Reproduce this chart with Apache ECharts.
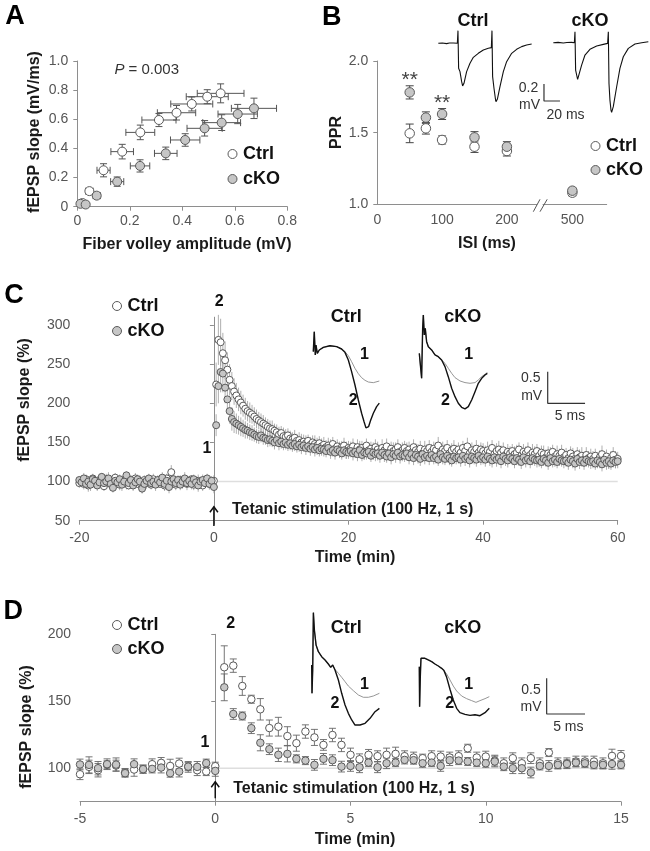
<!DOCTYPE html>
<html><head><meta charset="utf-8">
<script src="https://cdn.jsdelivr.net/npm/echarts@6/dist/echarts.min.js"></script>
<style>html,body{margin:0;padding:0;background:#fff}#c{width:650px;height:851px}</style>
</head><body><div id="c"></div>
<script>
// ---------------- Panel A: fEPSP slope vs fiber volley ----------------
const aCtrlX    = [0.020, 0.046, 0.100, 0.171, 0.240, 0.311, 0.378, 0.436, 0.495, 0.546];
const aCtrlY    = [0.025, 0.107, 0.250, 0.378, 0.510, 0.595, 0.645, 0.705, 0.755, 0.778];
const aCtrlXErr = [0.005, 0.014, 0.025, 0.043, 0.055, 0.065, 0.073, 0.080, 0.080, 0.089];
const aCtrlYErr = [0.006, 0.018, 0.045, 0.050, 0.050, 0.045, 0.050, 0.048, 0.048, 0.065];
const aCkoX     = [0.012, 0.032, 0.074, 0.152, 0.239, 0.337, 0.411, 0.485, 0.550, 0.611, 0.673];
const aCkoY     = [0.020, 0.015, 0.076, 0.172, 0.280, 0.366, 0.458, 0.538, 0.577, 0.636, 0.675];
const aCkoXErr  = [0.004, 0.006, 0.014, 0.025, 0.037, 0.043, 0.056, 0.067, 0.072, 0.075, 0.086];
const aCkoYErr  = [0.004, 0.005, 0.018, 0.032, 0.042, 0.043, 0.043, 0.053, 0.054, 0.066, 0.070];
const aPText = '0.003';

// ---------------- Panel B: paired-pulse ratio ----------------
const bIsi     = [50, 75, 100, 150, 200, 500];
const bCtrl    = [1.495, 1.530, 1.449, 1.402, 1.372, 1.081];
const bCtrlErr = [0.065, 0.040, 0.028, 0.040, 0.035, 0.022];
const bCko     = [1.781, 1.605, 1.630, 1.467, 1.402, 1.095];
const bCkoErr  = [0.046, 0.040, 0.038, 0.040, 0.035, 0.018];
const bXTicksLeft = [0, 100, 200];
const bXTicksRight = [500];
const bSig = [[50, 1.90], [100, 1.74]];   // "**" marks (ISI, PPR level)
// example traces (ms, mV)
const trBCtrl = [[0,0],[5,0.004],[10.4,-0.004],[14,0.003],[18.8,0.004],[23.8,0],[24.6,0.149],[25.4,-0.294],[27.1,-0.333],[29.2,-0.451],[30.4,-0.502],[32.1,-0.471],[35.4,-0.333],[39.6,-0.235],[43.8,-0.165],[50,-0.118],[56.3,-0.078],[62.5,-0.059],[66.3,-0.051],[67.1,0.149],[67.9,-0.392],[69.6,-0.529],[71.3,-0.647],[72.1,-0.686],[73.8,-0.659],[77.1,-0.51],[81.3,-0.333],[85.4,-0.216],[91.7,-0.118],[97.9,-0.071],[104.2,-0.039],[110.4,-0.02],[116.7,-0.008]];
const trBCko = [[0,0],[6,0.004],[12.5,-0.004],[17,0.003],[22.9,0.004],[26.3,0],[27.1,0.129],[27.9,-0.322],[29.2,-0.38],[30.4,-0.431],[32.1,-0.408],[35.4,-0.263],[39.6,-0.145],[45.8,-0.078],[54.2,-0.039],[62.5,-0.02],[67.9,-0.008],[68.8,0.129],[69.6,-0.478],[70.8,-0.675],[72.1,-0.792],[72.9,-0.82],[75,-0.753],[79.2,-0.518],[83.3,-0.302],[87.5,-0.165],[93.8,-0.067],[102.1,-0.016],[110.4,0],[118.8,0.012]];
const scaleB = {at: [132.1, -0.479], ms: 20, mV: 0.2};

// ---------------- Panel C: LTP, 20-s samples from -20 to 60 min ----------------
const cStart = -20, cStepMin = 1 / 3;
const cCtrlBase = [98,101,97,103,95,100,104,99,96,102,100,94,
  103,98,101,97,105,99,96,100,102,98,95,101,
  99,104,97,100,93,102,98,101,96,103,99,100,
  97,101,95,104,98,112,100,96,99,102,98,101,
  97,100,103,96,99,101,98,95,102,100,97,99,
  101];
const cCtrlPost = [224,281,278,264,255,243,230,222,215,210,205,201,
  197,193,190,188,186,183,180,178,176,174,172,170,
  168,167,165,163,160,162,158,157,159,155,154,156,
  152,153,150,151,149,152,147,150,148,146,149,145,
  147,144,146,143,148,142,145,141,144,146,140,143,
  142,145,139,144,141,143,138,146,140,142,139,144,
  141,138,143,140,145,137,142,139,141,144,138,140,
  143,139,141,137,144,140,138,142,136,141,139,143,
  138,142,140,146,137,141,139,143,136,140,142,138,
  141,137,143,139,145,136,140,138,142,137,141,139,
  136,140,138,143,135,139,141,137,140,134,138,136,
  139,135,137,141,133,138,136,140,134,137,135,139,
  133,137,135,131,136,134,138,132,135,133,137,131,
  134,130,136,132,129,135,131,133,128,134,130,132,
  129,133,127,131,135,128,132,126,130,134,128,129];
const cCkoBase = [102,99,104,97,100,96,103,101,95,99,106,98,
  100,104,97,92,101,99,103,96,100,108,98,102,
  95,99,103,100,91,97,101,104,98,100,96,102,
  99,105,97,101,93,100,103,98,102,96,100,104,
  98,101,97,103,99,95,100,102,98,104,97,101,
  93];
const cCkoPost = [172,222,240,238,220,205,190,180,176,174,172,170,
  168,166,165,163,162,160,158,157,159,156,155,153,
  154,152,150,153,149,151,148,150,147,149,146,148,
  145,147,144,146,143,145,142,144,141,143,140,142,
  141,139,143,138,140,137,141,139,136,140,138,137,
  139,136,138,135,140,134,137,136,138,133,137,135,
  136,133,137,134,132,136,131,135,133,137,132,134,
  133,136,131,135,130,134,132,129,135,131,133,130,
  134,130,132,128,135,131,129,133,130,127,132,130,
  131,128,133,129,131,127,132,130,128,133,129,131,
  128,132,129,127,131,128,130,126,132,129,127,131,
  129,126,130,128,125,131,127,129,126,130,128,127,
  128,125,129,127,124,130,126,128,125,129,127,126,
  127,124,128,126,123,129,125,127,124,128,126,125,
  126,123,127,125,122,128,124,126,123,127,125,126];
const cCtrlErr = [6,5,7,6,8,5,6,7,5,6,8,6, 7,5,6,8,6,5,7,6,6,8,5,7, 6,7,5,6,8,6,7,5,6,7,6,8,
  5,6,7,6,8,9,6,7,5,6,7,6, 8,6,5,7,6,8,6,7,5,6,7,6, 7,
  28,32,30,26,24,22,20,18,17,16,15,15, 14,14,13,13,12,12,12,11,11,11,10,10,
  10,11,9,10,10,9,11,10,9,10,9,10, 9,10,11,9,10,8,10,9,11,10,9,10,
  10,9,10,11,9,10,9,10,8,10,11,9, 9,10,9,10,11,9,10,9,10,9,11,10,
  10,9,11,9,10,10,9,11,9,10,9,10, 9,11,10,9,10,9,10,10,9,11,9,10,
  10,9,10,11,9,10,9,10,10,9,11,9, 9,10,9,10,11,9,10,9,11,10,9,10,
  10,11,9,10,9,10,11,9,10,9,10,9, 9,10,10,9,11,10,9,10,9,11,10,9,
  10,9,11,10,9,10,9,10,11,9,10,10, 9,10,9,11,10,9,10,11,9,10,9,10,
  10,9,10,9,11,10,9,10,9,10,11,9];
const cCkoErr = [5,6,7,5,6,8,5,6,7,6,5,7, 6,8,5,6,7,5,6,8,6,5,7,6, 7,5,6,8,6,7,5,6,7,6,8,5,
  6,7,5,6,8,6,7,5,6,7,6,8, 5,6,7,6,5,8,6,7,5,6,7,6, 8,
  14,22,26,24,20,18,16,15,14,13,12,12, 11,11,10,10,10,9,9,9,9,9,8,9,
  9,8,9,8,9,9,8,9,8,9,8,9, 8,9,9,8,9,8,9,8,9,9,8,9,
  9,8,9,9,8,9,8,9,8,9,9,8, 8,9,8,9,9,8,9,8,9,8,9,9,
  9,9,8,9,8,9,9,8,9,8,9,8, 8,9,9,8,9,8,9,9,8,9,8,9,
  9,8,9,8,9,9,8,9,9,8,9,8, 8,9,8,9,8,9,9,8,9,9,8,9,
  9,8,9,9,8,9,8,9,8,9,9,8, 8,9,9,8,9,8,9,8,9,9,8,9,
  9,8,9,8,9,9,8,9,8,9,8,9, 8,9,8,9,9,8,9,8,9,9,8,9,
  9,8,9,8,9,8,9,9,8,9,8,9];
const cBaseline = [[0, 100], [60, 100]];
const trCCtrlHead = [[0,-0.026],[0.13,0.29],[0.27,-0.079],[0.36,0.079],[0.54,-0.053],[0.8,0],[1.34,0.042],[2.23,0.068],[3.13,0.053],[3.79,0.016]];
const trCCtrl2 = [[4.24,-0.037],[4.69,-0.158],[5.13,-0.342],[5.58,-0.553],[6.03,-0.79],[6.47,-1.0],[6.79,-1.13],[7.05,-1.23],[7.23,-1.26],[7.41,-1.21],[7.68,-1.11],[8.04,-1.0],[8.48,-0.895],[8.84,-0.84]];
const trCCtrl1 = [[4.24,-0.026],[4.69,-0.09],[5.13,-0.184],[5.58,-0.29],[6.03,-0.374],[6.47,-0.437],[6.92,-0.479],[7.37,-0.506],[8.04,-0.516],[8.84,-0.49]];
const trCCkoHead = [[0,0],[0.18,-0.026],[0.31,-0.395],[0.45,0.395],[0.54,0.606],[0.67,0.29],[0.8,0.395],[0.98,0.184],[1.21,0.105],[1.65,0.053],[2.1,-0.026],[2.54,-0.053],[2.99,-0.105]];
const trCCko2 = [[3.44,-0.21],[3.88,-0.369],[4.33,-0.553],[4.78,-0.685],[5.22,-0.79],[5.67,-0.853],[6.12,-0.879],[6.56,-0.843],[7.01,-0.737],[7.46,-0.606],[7.9,-0.474],[8.35,-0.395],[8.79,-0.342],[9.11,-0.316]];
const trCCko1 = [[3.44,-0.158],[3.88,-0.237],[4.33,-0.316],[4.78,-0.384],[5.45,-0.437],[6.12,-0.463],[6.79,-0.474],[7.46,-0.463],[7.9,-0.421],[8.35,-0.369],[8.79,-0.332],[9.11,-0.305]];
const scaleC = {at: [17.19, -0.29], ms: 5, mV: 0.5};

// ---------------- Panel D: 20-s samples from -5 to 15 min ----------------
const dStart = -5, dStepMin = 1 / 3;
const dCtrl = [95.5,101,98.5,102.5,102,96.8,99,99.3,103,104,101.7,103.5,101,98.5,97.5,101.5,
  175.4,176.6,161.4,151.5,144,130,131,124,118.7,127.4,123,117.4,124.8,117.4,110,106.7,110,109,110,110.7,109,108,107.5,109,
  108.7,108,109,114.9,108,108.7,105.7,103.7,107.5,103.7,107.5,103.7,111.7,103.7,103.7,105,105,105,103.7,109.2,109.2];
const dCtrlErr = [4,5,5,3,4,3,5,3,4,4,5,4,4,4,3,3,
  16,5,7,3,8,6,7,7,6,5,6,4,5,5,5,4,4,4,5,5,4,4,3,4,4,4,4,3,4,4,4,4,4,4,4,4,3,4,4,4,4,4,4,5,4];
const dCko = [102.8,102.5,100,103,102.7,96.3,103,99.3,99.5,100.5,96.3,97.5,101.2,101,103.8,98,
  160.4,140.5,139,129.9,119,114.2,110,110.7,107,105.7,102.5,107,106,101.2,101.7,100.7,104.2,100.7,103.7,104.2,106.2,106,103.7,104.2,
  101.7,106,105.7,105,104.2,103.7,105,101.2,100,100,96.8,101.7,101.7,102.5,103.2,104.2,103.7,102.5,102.5,103.2,102.5];
const dCkoErr = [4,6,5,4,5,3,4,3,3,4,3,4,3,4,3,4,
  10,4,3,4,6,4,5,6,3,3,4,4,4,4,4,4,3,4,4,3,3,3,3,3,4,4,3,3,3,3,4,3,4,4,4,3,4,3,3,3,3,3,3,4,3];
const dBaseline = [[0, 100], [15, 100]];
const trDCtrlHead = [[0,0],[0.04,-0.397],[0.13,-0.07],[0.22,0.734],[0.35,0.491],[0.57,0.28],[0.87,0.187],[1.3,0.117],[1.74,0.07],[2.17,0.014],[2.48,-0.033],[2.74,0]];
const trDCtrl2 = [[3.04,-0.07],[3.48,-0.21],[3.91,-0.397],[4.35,-0.561],[4.78,-0.678],[5.22,-0.771],[5.65,-0.842],[6.3,-0.842],[6.96,-0.818],[7.61,-0.748],[8.26,-0.655],[8.83,-0.608]];
const trDCtrl1 = [[3.04,-0.061],[3.48,-0.117],[3.91,-0.173],[4.35,-0.234],[4.78,-0.295],[5.43,-0.36],[6.09,-0.421],[6.74,-0.453],[7.39,-0.453],[8.04,-0.435],[8.83,-0.397]];
const trDCkoHead = [[0,-0.023],[0.04,-0.584],[0.13,-0.164],[0.22,0.094],[0.43,0.117],[0.74,0.094],[1.17,0.07],[1.61,0.047],[2.04,0.014],[2.48,-0.014],[2.91,-0.047],[3.22,-0.079]];
const trDCko2 = [[3.57,-0.173],[4.0,-0.341],[4.43,-0.491],[4.87,-0.608],[5.3,-0.669],[5.96,-0.692],[6.61,-0.706],[7.26,-0.697],[7.91,-0.711],[8.57,-0.669],[9.13,-0.608]];
const trDCko1 = [[3.57,-0.126],[4.0,-0.21],[4.43,-0.295],[4.87,-0.365],[5.52,-0.435],[6.17,-0.472],[6.83,-0.5],[7.39,-0.524],[7.91,-0.5],[8.57,-0.472],[9.13,-0.444]];
const scaleD = {at: [16.61, -0.187], ms: 5, mV: 0.5};

// ---------------- build ----------------
const cCtrl = cCtrlBase.concat(cCtrlPost), cCko = cCkoBase.concat(cCkoPost);
[cCtrl, cCko, cCtrlErr, cCkoErr].forEach(a => { if (a.length !== 241) throw new Error('C length ' + a.length); });
[dCtrl, dCko, dCtrlErr, dCkoErr].forEach(a => { if (a.length !== 61) throw new Error('D length ' + a.length); });
const cTime = cCtrl.map((_, i) => cStart + i * cStepMin);
const dTime = dCtrl.map((_, i) => dStart + i * dStepMin);

const FONT = '"Liberation Sans", Arial, Helvetica, sans-serif';
const AXC = '#8e8e8e', LBL = '#555', EDGE = '#5a5a5a', GRAYFILL = '#c6c6c6';

const grids = [
  {left: 77.3, top: 61, width: 210, height: 145.7},      // 0 A
  {left: 377.3, top: 61, width: 159.4, height: 143.3},   // 1 B left
  {left: 543, top: 61, width: 63.7, height: 143.3},      // 2 B right
  {left: 79.3, top: 317.2, width: 538.4, height: 203.5}, // 3 C
  {left: 80, top: 634.3, width: 541, height: 167.4},     // 4 D
  {left: 438.3, top: 26.3, width: 124, height: 85},      // 5 B Ctrl trace (0.8 px/ms, 85 px/mV)
  {left: 553.3, top: 25.7, width: 96, height: 93.5},     // 6 B cKO trace
  {left: 313.3, top: 324.7, width: 67.2, height: 113.9}, // 7 C Ctrl trace
  {left: 419.3, top: 328, width: 171.8, height: 113.9},  // 8 C cKO trace (+ scale bar)
  {left: 311.7, top: 600.8, width: 69, height: 135.5},   // 9 D Ctrl trace
  {left: 419.3, top: 600.8, width: 168.7, height: 135.5} // 10 D cKO trace (+ scale bar)
].map(g => Object.assign({containLabel: false, outerBoundsMode: 'none'}, g));

function vAxis(gi, min, max, o) {
  o = o || {};
  return {
    gridIndex: gi, type: 'value', min, max, interval: o.interval,
    axisLine: {show: o.line !== false, lineStyle: {color: AXC, width: 1}},
    axisTick: Object.assign({show: o.tick !== false, length: 4, inside: false, lineStyle: {color: AXC}}, o.ticks ? {customValues: o.ticks} : {}),
    axisLabel: Object.assign({show: true, color: LBL, fontSize: 14, fontFamily: FONT, margin: o.margin || 8, formatter: o.fmt}, o.ticks ? {customValues: o.ticks} : {}),
    splitLine: {show: false}
  };
}
function hidden(gi, min, max) { return {gridIndex: gi, type: 'value', min, max, show: false}; }
const fmt1 = v => (v === 0 ? '0' : v.toFixed(1));

const xAxis = [
  vAxis(0, 0, 0.8, {interval: 0.2, fmt: fmt1, margin: 7}),
  vAxis(1, 0, 246, {ticks: bXTicksLeft, tick: false, margin: 9}),
  vAxis(2, 454.7, 553, {ticks: bXTicksRight, tick: false, margin: 9}),
  vAxis(3, -20, 60, {interval: 20, margin: 10}),
  vAxis(4, -5, 15, {interval: 5, margin: 10}),
  hidden(5, 0, 155), hidden(6, 0, 120), hidden(7, 0, 9), hidden(8, 0, 23), hidden(9, 0, 9), hidden(10, 0, 22)
];
const yAxis = [
  vAxis(0, 0, 1.0, {interval: 0.2, fmt: fmt1, margin: 9}),
  vAxis(1, 1.0, 2.0, {interval: 0.5, fmt: v => v.toFixed(1), margin: 9}),
  hidden(2, 1.0, 2.0),
  vAxis(3, 50, 310, {ticks: [50, 100, 150, 200, 250, 300], margin: 9}),
  vAxis(4, 75, 200, {ticks: [100, 150, 200], margin: 9}),
  hidden(5, -0.8, 0.2), hidden(6, -0.9, 0.2), hidden(7, -1.4, 0.4), hidden(8, -1.4, 0.4), hidden(9, -1.0, 0.9), hidden(10, -1.0, 0.9)
];

function errSeries(name, gi, data, cap, color, lw, hasX) {
  return {
    type: 'custom', name, xAxisIndex: gi, yAxisIndex: gi, coordinateSystem: 'cartesian2d',
    data, encode: {x: 0, y: 1}, silent: true, z: 2, animation: false,
    renderItem: (params, api) => {
      const x = api.value(0), y = api.value(1);
      const ey = hasX ? api.value(3) : api.value(2);
      const st = {stroke: color, lineWidth: lw, fill: null};
      const ch = [];
      const t = api.coord([x, y + ey]), b = api.coord([x, y - ey]);
      ch.push({type: 'line', shape: {x1: t[0], y1: t[1], x2: b[0], y2: b[1]}, style: st});
      if (cap) {
        ch.push({type: 'line', shape: {x1: t[0] - cap, y1: t[1], x2: t[0] + cap, y2: t[1]}, style: st});
        ch.push({type: 'line', shape: {x1: b[0] - cap, y1: b[1], x2: b[0] + cap, y2: b[1]}, style: st});
      }
      if (hasX) {
        const ex = api.value(2);
        const l = api.coord([x - ex, y]), r = api.coord([x + ex, y]);
        ch.push({type: 'line', shape: {x1: l[0], y1: l[1], x2: r[0], y2: r[1]}, style: st});
        ch.push({type: 'line', shape: {x1: l[0], y1: l[1] - cap, x2: l[0], y2: l[1] + cap}, style: st});
        ch.push({type: 'line', shape: {x1: r[0], y1: r[1] - cap, x2: r[0], y2: r[1] + cap}, style: st});
      }
      return {type: 'group', children: ch};
    }
  };
}
function pts(name, gi, data, fill, size, z) {
  return {type: 'scatter', name, xAxisIndex: gi, yAxisIndex: gi, data, symbol: 'circle', symbolSize: size,
    itemStyle: {color: fill, borderColor: EDGE, borderWidth: 1, opacity: 1}, z: z || 3, silent: true,
    emphasis: {disabled: true}, animation: false};
}
function trace(name, gi, data, color, width, z) {
  return {type: 'line', name, xAxisIndex: gi, yAxisIndex: gi, data, showSymbol: false, symbol: 'none',
    lineStyle: {color, width}, z: z || 4, silent: true, animation: false, clip: false, emphasis: {disabled: true}};
}
function scaleBar(name, gi, s) {
  const [x, y] = s.at;
  return trace(name, gi, [[x, y], [x, y - s.mV], [x + s.ms, y - s.mV]], '#333', 1.2, 4);
}

const series = [];
// A
series.push(errSeries('A Ctrl err', 0, aCtrlX.map((x, i) => [x, aCtrlY[i], aCtrlXErr[i], aCtrlYErr[i]]), 3.5, '#555', 1, true));
series.push(errSeries('A cKO err', 0, aCkoX.map((x, i) => [x, aCkoY[i], aCkoXErr[i], aCkoYErr[i]]), 3.5, '#555', 1, true));
series.push(pts('Ctrl', 0, aCtrlX.map((x, i) => [x, aCtrlY[i]]), '#fff', 9));
series.push(pts('cKO', 0, aCkoX.map((x, i) => [x, aCkoY[i]]), GRAYFILL, 9));
// B (split axis: short ISIs left, 500 ms right)
const bLeftIdx = bIsi.map((v, i) => i).filter(i => bIsi[i] <= 246);
const bRightIdx = bIsi.map((v, i) => i).filter(i => bIsi[i] > 246);
[[1, bLeftIdx], [2, bRightIdx]].forEach(([gi, idx]) => {
  series.push(errSeries('B Ctrl err ' + gi, gi, idx.map(i => [bIsi[i], bCtrl[i], bCtrlErr[i]]), 4, '#444', 1, false));
  series.push(errSeries('B cKO err ' + gi, gi, idx.map(i => [bIsi[i], bCko[i], bCkoErr[i]]), 4, '#444', 1, false));
  series.push(pts('Ctrl', gi, idx.map(i => [bIsi[i], bCtrl[i]]), '#fff', 9.5));
  series.push(pts('cKO', gi, idx.map(i => [bIsi[i], bCko[i]]), GRAYFILL, 9.5));
});
series.push(trace('B trace Ctrl', 5, trBCtrl, '#111', 1.1));
series.push(trace('B trace cKO', 6, trBCko, '#111', 1.1));
series.push(scaleBar('B scale', 5, scaleB));
// C
series.push(trace('C baseline', 3, cBaseline, '#dedede', 1.5, 1));
series.push(errSeries('C Ctrl err', 3, cTime.map((t, i) => [t, cCtrl[i], cCtrlErr[i]]), 0, '#9a9a9a', 0.8, false));
series.push(pts('Ctrl', 3, cTime.map((t, i) => [t, cCtrl[i]]), '#fff', 7));
series.push(errSeries('C cKO err', 3, cTime.map((t, i) => [t, cCko[i], cCkoErr[i]]), 0, '#9a9a9a', 0.8, false));
series.push(pts('cKO', 3, cTime.map((t, i) => [t, cCko[i]]), GRAYFILL, 7, 3));
series.push(trace('C trace Ctrl 1', 7, trCCtrlHead.concat(trCCtrl1), '#8a8a8a', 0.9));
series.push(trace('C trace Ctrl 2', 7, trCCtrlHead.concat(trCCtrl2), '#111', 1.4, 5));
series.push(trace('C trace cKO 1', 8, trCCkoHead.concat(trCCko1), '#8a8a8a', 0.9));
series.push(trace('C trace cKO 2', 8, trCCkoHead.concat(trCCko2), '#111', 1.4, 5));
series.push(scaleBar('C scale', 8, scaleC));
// D
series.push(trace('D baseline', 4, dBaseline, '#dedede', 1.5, 1));
series.push(errSeries('D Ctrl err', 4, dTime.map((t, i) => [t, dCtrl[i], dCtrlErr[i]]), 3.5, '#666', 0.9, false));
series.push(pts('Ctrl', 4, dTime.map((t, i) => [t, dCtrl[i]]), '#fff', 7.5));
series.push(errSeries('D cKO err', 4, dTime.map((t, i) => [t, dCko[i], dCkoErr[i]]), 3.5, '#666', 0.9, false));
series.push(pts('cKO', 4, dTime.map((t, i) => [t, dCko[i]]), GRAYFILL, 7.5));
series.push(trace('D trace Ctrl 1', 9, trDCtrlHead.concat(trDCtrl1), '#8a8a8a', 0.9));
series.push(trace('D trace Ctrl 2', 9, trDCtrlHead.concat(trDCtrl2), '#111', 1.4, 5));
series.push(trace('D trace cKO 1', 10, trDCkoHead.concat(trDCko1), '#8a8a8a', 0.9));
series.push(trace('D trace cKO 2', 10, trDCkoHead.concat(trDCko2), '#111', 1.4, 5));
series.push(scaleBar('D scale', 10, scaleD));

function legendAt(left, top, gap) {
  return {data: ['Ctrl', 'cKO'], left, top, orient: 'vertical', itemGap: gap, itemWidth: 9, itemHeight: 9,
    icon: 'circle', padding: 0, selectedMode: false,
    itemStyle: {borderColor: EDGE, borderWidth: 1},
    textStyle: {fontSize: 18, fontWeight: 'bold', color: '#111', fontFamily: FONT, lineHeight: 19, padding: [0, 0, 0, 1]}};
}

const option = {
  animation: false,
  backgroundColor: '#fff',
  textStyle: {fontFamily: FONT},
  grid: grids, xAxis, yAxis, series,
  legend: [legendAt(227.5, 144.5, 6), legendAt(590.5, 136.5, 5), legendAt(112, 296.5, 6), legendAt(112, 615.5, 5)]
};

const chart = echarts.init(document.getElementById('c'), null, {renderer: 'canvas'});
chart.setOption(option);

// ---------------- annotations ----------------
function txt(x, y, text, size, weight, color, align, rot, rich) {
  const el = {type: 'text', x, y, rotation: rot || 0, silent: true, z: 50,
    style: {text, fontSize: size, fontWeight: weight || 'normal', fill: color || '#111', fontFamily: FONT,
      align: align || 'center', verticalAlign: 'middle'}};
  if (rich) el.style.rich = rich;
  return el;
}
function ln(x1, y1, x2, y2, color, w) {
  return {type: 'line', silent: true, z: 50, shape: {x1, y1, x2, y2}, style: {stroke: color || '#111', lineWidth: w || 1}};
}
const P = (gi, v) => chart.convertToPixel({gridIndex: gi}, v);
const g = [];
// panel letters
g.push(txt(15, 17, 'A', 27, 'bold', '#000'));
g.push(txt(331.7, 17.5, 'B', 27, 'bold', '#000'));
g.push(txt(14, 296, 'C', 27, 'bold', '#000'));
g.push(txt(13.3, 611.7, 'D', 27, 'bold', '#000'));
// axis titles
const ttl = (x, y, s, rot) => txt(x, y, s, 16, 'bold', '#1a1a1a', 'center', rot);
g.push(ttl(34.5, 132, 'fEPSP slope (mV/ms)', Math.PI / 2));
g.push(ttl(187, 245, 'Fiber volley amplitude (mV)'));
g.push(ttl(337, 132.5, 'PPR', Math.PI / 2));
g.push(ttl(487, 244, 'ISI (ms)'));
g.push(ttl(25, 400, 'fEPSP slope (%)', Math.PI / 2));
g.push(ttl(355, 558, 'Time (min)'));
g.push(ttl(26.7, 727, 'fEPSP slope (%)', Math.PI / 2));
g.push(ttl(355, 840, 'Time (min)'));
// P value
g.push(txt(146.7, 70, '{i|P} = ' + aPText, 15, 'normal', '#333', 'center', 0, {i: {fontStyle: 'italic', fontSize: 15, fill: '#333', fontFamily: FONT}}));
// significance marks
bSig.forEach(([x, y]) => { const p = P(1, [x, y]); g.push(txt(p[0], p[1] + 4.5, '**', 21, 'normal', '#444')); });
// axis break slashes in B
{ const p = P(1, [246, 1.0]);
  g.push(ln(p[0] - 3.4, p[1] + 7.4, p[0] + 3.3, p[1] - 5, '#555', 1));
  g.push(ln(p[0] + 3.3, p[1] + 7.4, p[0] + 10.5, p[1] - 5, '#555', 1)); }
// B trace labels & scale
g.push(txt(473, 21, 'Ctrl', 18, 'bold', '#111'));
g.push(txt(590, 21, 'cKO', 18, 'bold', '#111'));
g.push(txt(528.5, 88, '0.2', 14, 'normal', '#333'));
g.push(txt(529.5, 105, 'mV', 14, 'normal', '#333'));
g.push(txt(565.5, 115.5, '20 ms', 14, 'normal', '#333'));
// C inset labels
g.push(txt(346.3, 316.7, 'Ctrl', 18, 'bold', '#111'));
g.push(txt(462.8, 316.7, 'cKO', 18, 'bold', '#111'));
g.push(txt(364.5, 355, '1', 16, 'bold', '#111'));
g.push(txt(353.3, 400.8, '2', 16, 'bold', '#111'));
g.push(txt(468.8, 355, '1', 16, 'bold', '#111'));
g.push(txt(445.5, 400.8, '2', 16, 'bold', '#111'));
g.push(txt(530.8, 378.3, '0.5', 14, 'normal', '#333'));
g.push(txt(531.7, 395.8, 'mV', 14, 'normal', '#333'));
g.push(txt(570, 416, '5 ms', 14, 'normal', '#333'));
// D inset labels
g.push(txt(346.3, 628.3, 'Ctrl', 18, 'bold', '#111'));
g.push(txt(462.8, 628.3, 'cKO', 18, 'bold', '#111'));
g.push(txt(364.5, 685, '1', 16, 'bold', '#111'));
g.push(txt(335, 703.3, '2', 16, 'bold', '#111'));
g.push(txt(468.8, 685, '1', 16, 'bold', '#111'));
g.push(txt(449.8, 703.3, '2', 16, 'bold', '#111'));
g.push(txt(531, 690, '0.5', 14, 'normal', '#333'));
g.push(txt(531, 706.7, 'mV', 14, 'normal', '#333'));
g.push(txt(568.3, 727, '5 ms', 14, 'normal', '#333'));
// time-point labels
g.push(txt(207, 449, '1', 16, 'bold', '#111'));
g.push(txt(219.2, 301.7, '2', 16, 'bold', '#111'));
g.push(txt(205, 742.5, '1', 16, 'bold', '#111'));
g.push(txt(230.8, 624, '2', 16, 'bold', '#111'));
// tetanus arrows
function arrow(gi, yminVal, yBottomOff, yTopOff, textOff) {
  const p = P(gi, [0, yminVal]);
  const x = p[0], yb = p[1] + yBottomOff, yt = p[1] + yTopOff;
  g.push(ln(x, yb, x, yt, '#111', 1.5));
  g.push({type: 'polyline', silent: true, z: 50, shape: {points: [[x - 4, yt + 5.5], [x, yt], [x + 4, yt + 5.5]]}, style: {stroke: '#111', lineWidth: 1.5, fill: null}});
  g.push(txt(x + 18, p[1] + textOff, 'Tetanic stimulation (100 Hz, 1 s)', 16, 'bold', '#1a1a1a', 'left'));
}
arrow(3, 50, 5.3, -14, -11.5);
arrow(4, 75, -3.4, -20, -13.4);

chart.setOption({graphic: {elements: g}});
</script></body></html>
